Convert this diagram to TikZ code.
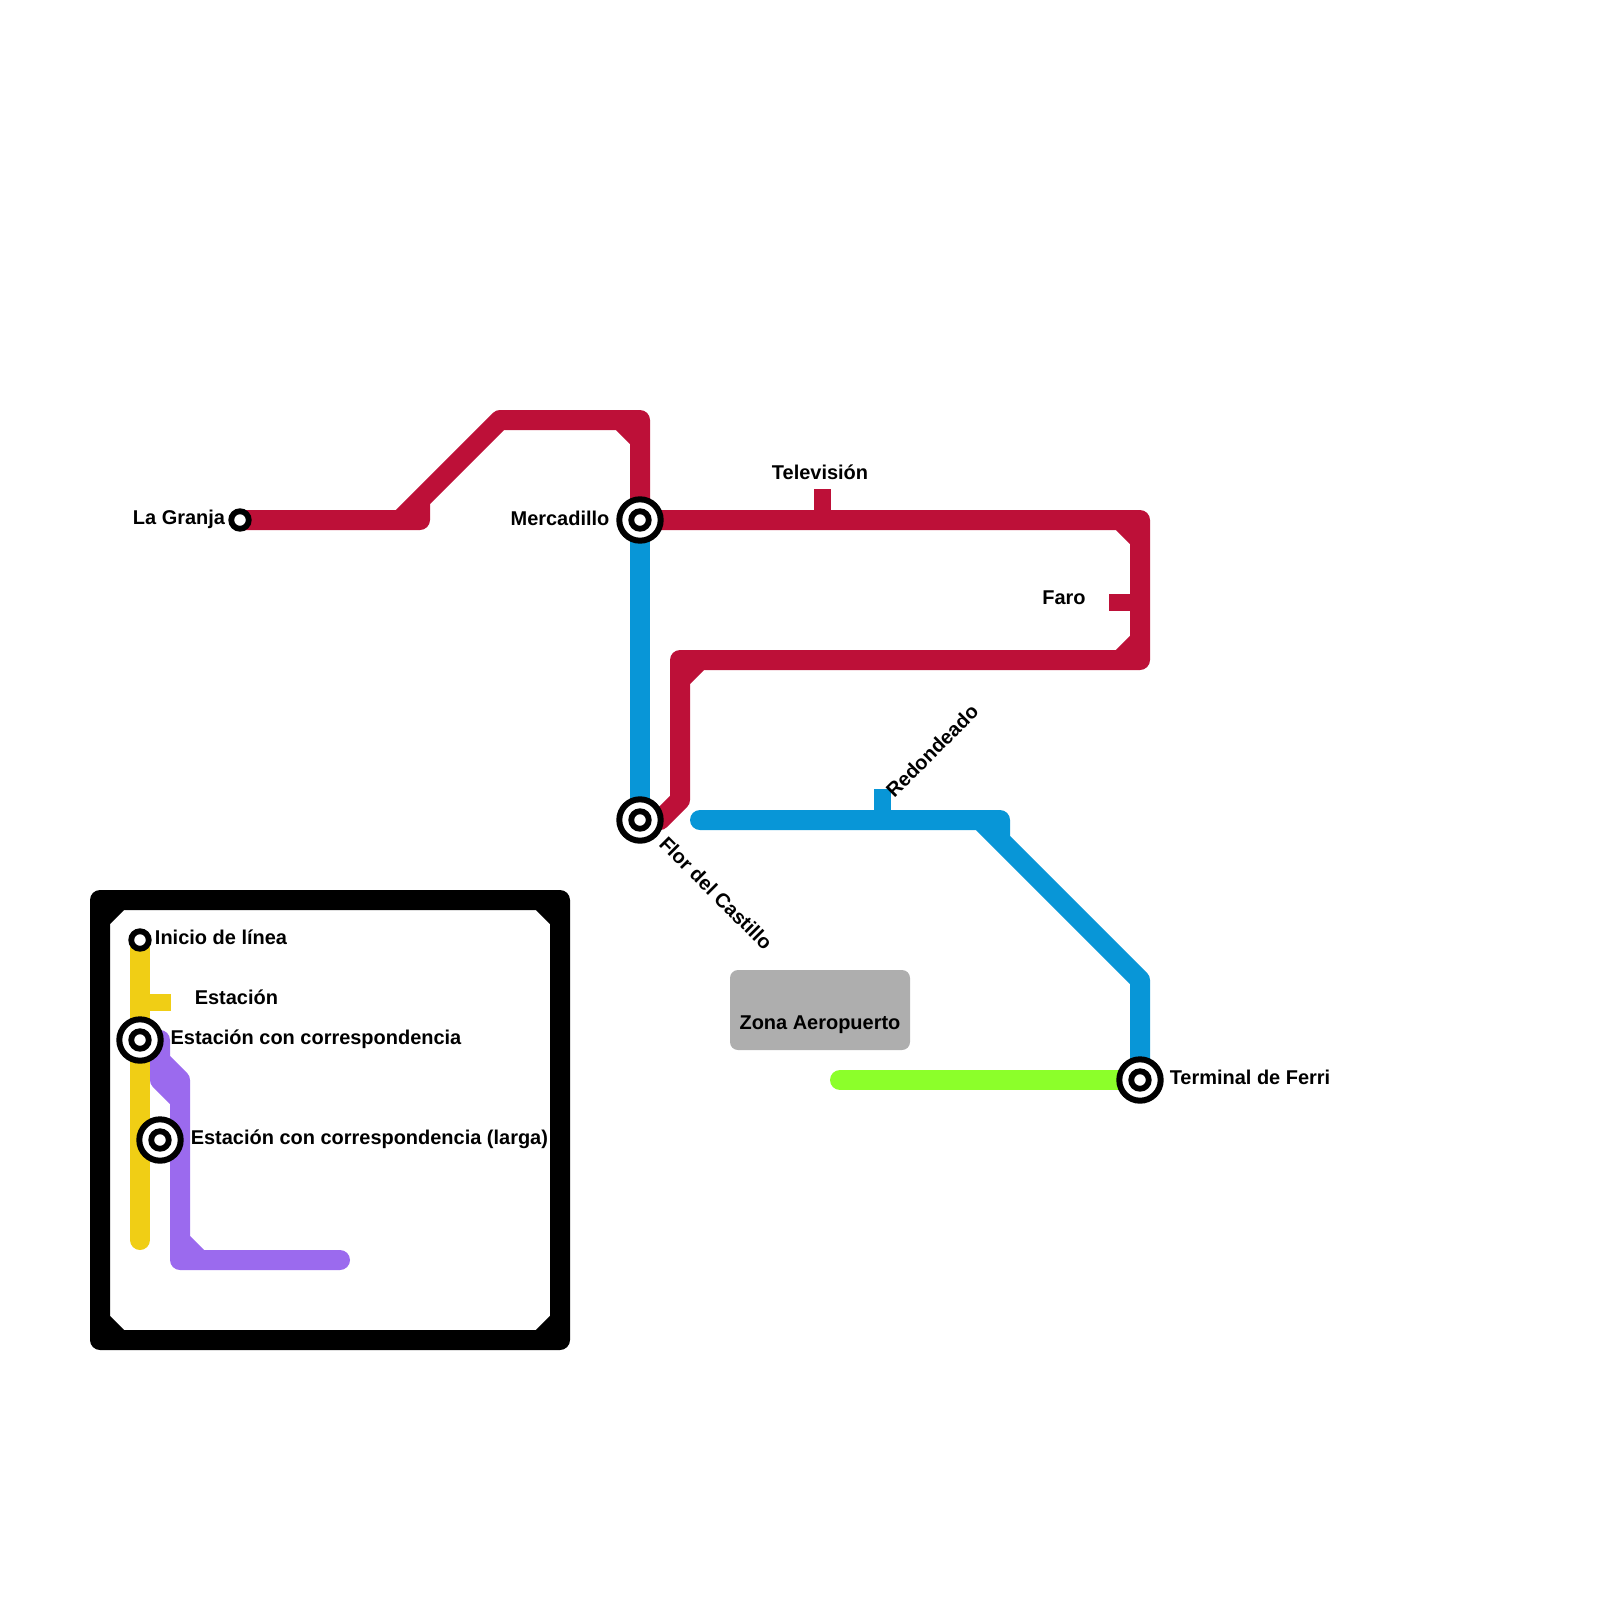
\documentclass[tikz,border=0pt]{standalone}
\usepackage{fontspec}
\setmainfont{Liberation Sans}
\usetikzlibrary{backgrounds}
\definecolor{MetroRed}{HTML}{BD1038}
\definecolor{MetroBlue}{HTML}{0896D7}
\definecolor{MetroYellow}{HTML}{F0CE15}
\definecolor{MetroPurple}{HTML}{9B6AEE}
\definecolor{MetroGreen}{HTML}{8CFF2A}
\definecolor{MetroGray}{HTML}{AEAEAE}
\tikzset{
  metro/line/.style={line width=0.5cm, line cap=round, line join=round},
  metro/tick/.style={line width=0.42cm},
  metro/hub/.style={
    circle,
    draw=black,
    line width=0.15cm,
    fill=white,
    inner sep=0pt,
    minimum size=1.035cm,
    path picture={\draw[black,line width=0.145cm] (path picture bounding box.center) circle (0.219cm);}
  },
  metro/start/.style={
    circle,
    draw=black,
    line width=0.145cm,
    fill=white,
    inner sep=0pt,
    minimum size=0.438cm
  },
  metro/label/.style={font=\bfseries\fontsize{14.2}{16}\selectfont, text=black, inner sep=0pt},
  metro/zone/.style={fill=MetroGray, rounded corners=0.2cm, minimum width=4.5cm, minimum height=2cm, inner sep=0pt}
}
\begin{document}
\begin{tikzpicture}[x=0.5cm,y=-0.5cm]
  \useasboundingbox (0,0) rectangle (80,80);
  % stations
  \node[metro/start] (granja) at (12,26) {};
  \node[metro/hub] (mercadillo) at (32,26) {};
  \node[metro/hub] (flor) at (32,41) {};
  \node[metro/hub] (ferri) at (57,54) {};
  \node[metro/start] (inicio) at (7,47) {};
  \node[metro/hub] (corresp) at (7,52) {};
  \node[metro/hub] (larga) at (8,57) {};
  \coordinate (tele) at (41.125,26);
  \coordinate (faro) at (57,30.125);
  \coordinate (redondo) at (44.125,41);
  \coordinate (estacion) at (7,50.125);
  \coordinate (blueend) at (35,41);
  \coordinate (greenend) at (42,54);
  \coordinate (yellowend) at (7,62);
  \coordinate (purpletop) at (8,52);
  \coordinate (purpleend) at (17,63);
  % lines
  \begin{scope}[on background layer]
    \draw[metro/line,MetroYellow] (inicio.center) -- (yellowend);
    \draw[metro/tick,MetroYellow] (estacion) -- (8.55,50.125);
    \draw[metro/line,MetroPurple] (purpletop) -- (8,54) -- (9,55) -- (9,63) -- (purpleend)
      (8,53) -- (9,54) -- (9,55) (9,62) -- (10,63);
    \draw[metro/line,MetroRed] (granja.center) -- (21,26) -- (21,25) -- (25,21) -- (32,21) -- (mercadillo.center)
      (20,26) -- (21,25) (31,21) -- (32,22);
    \draw[metro/line,MetroRed] (mercadillo.center) -- (57,26) -- (57,33) -- (34,33) -- (34,40) -- (33,41) -- (flor.center)
      (56,26) -- (57,27) (57,32) -- (56,33) (35,33) -- (34,34);
    \draw[metro/tick,MetroRed] (tele) -- (41.125,24.45);
    \draw[metro/tick,MetroRed] (faro) -- (55.45,30.125);
    \draw[metro/line,MetroBlue] (mercadillo.center) -- (flor.center);
    \draw[metro/line,MetroBlue] (blueend) -- (50,41) -- (50,42) -- (57,49) -- (ferri.center)
      (49,41) -- (50,42);
    \draw[metro/tick,MetroBlue] (redondo) -- (44.125,39.45);
    \draw[metro/line,MetroGreen] (greenend) -- (ferri.center);
  \end{scope}
  % inset frame
  \draw[metro/line,black] (5,45) -- (28,45) -- (28,67) -- (5,67) -- cycle
    (5,46) -- (6,45) (27,45) -- (28,46) (28,66) -- (27,67) (6,67) -- (5,66);
  % labels
  \node[metro/label] (granjaL) at (8.95,25.95) {La Granja};
  \node[metro/label] (mercadilloL) at (28,25.9) {Mercadillo};
  \node[metro/label] (teleL) at (41,23.6) {Televisión};
  \node[metro/label] (faroL) at (53.2,29.9) {Faro};
  \node[metro/label,rotate=45] (redondoL) at (46.6,37.55) {Redondeado};
  \node[metro/label,rotate=-45] (florL) at (35.8,44.65) {Flor del Castillo};
  \node[metro/label] (ferriL) at (62.5,53.85) {Terminal de Ferri};
  \node[metro/zone] (zona) at (41,50.5) {};
  \node[metro/label] (zonaL) at (41,51.25) {Zona Aeropuerto};
  \node[metro/label] (inicioL) at (11.05,46.85) {Inicio de línea};
  \node[metro/label] (estacionL) at (11.82,49.88) {Estación};
  \node[metro/label] (correspL) at (15.8,51.98) {Estación con correspondencia};
  \node[metro/label] (largaL) at (18.47,56.97) {Estación con correspondencia (larga)};
\end{tikzpicture}
\end{document}
